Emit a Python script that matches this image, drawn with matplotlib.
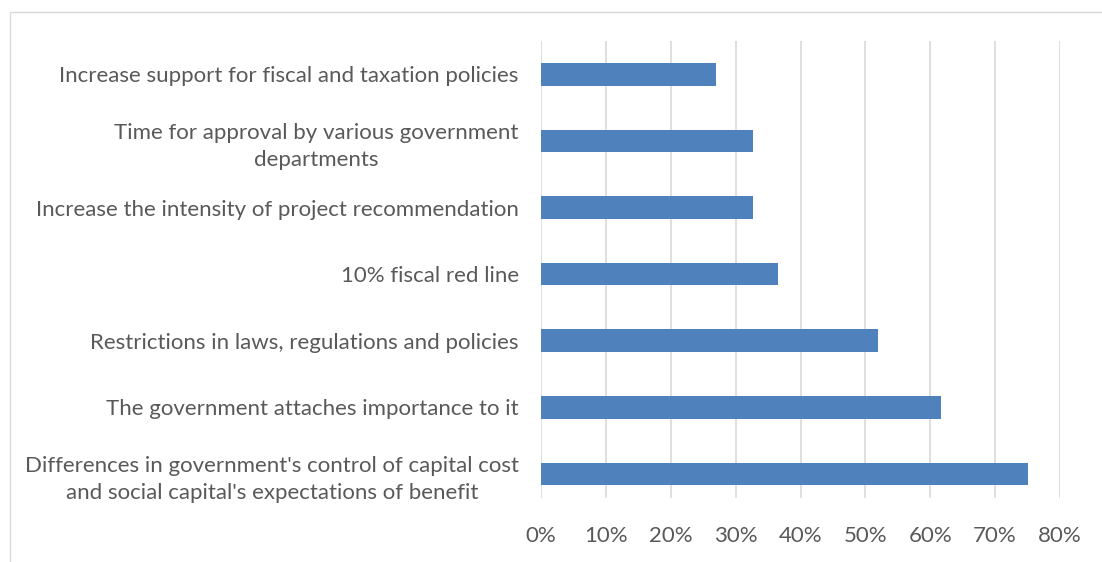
import matplotlib.pyplot as plt
from matplotlib.patches import Rectangle
from matplotlib.ticker import FuncFormatter

plt.rcParams['font.family'] = ['Lato', 'DejaVu Sans']

categories = [
    "Increase support for fiscal and taxation policies",
    "Time for approval by various government\ndepartments",
    "Increase the intensity of project recommendation",
    "10% fiscal red line",
    "Restrictions in laws, regulations and policies",
    "The government attaches importance to it",
    "Differences in government's control of capital cost\nand social capital's expectations of benefit",
]
shares = [0.269, 0.327, 0.327, 0.365, 0.519, 0.616, 0.750]
xticks = [0, 0.1, 0.2, 0.3, 0.4, 0.5, 0.6, 0.7, 0.8]

grey = "#595959"
blue = "#4f81bd"

W, H = 1102, 562
fig = plt.figure(figsize=(W / 100, H / 100), dpi=100)
# plot area in pixels: x 541..1060, y 41..498
ax = fig.add_axes([541 / W, (H - 498) / H, (1060 - 541) / W, (498 - 41) / H])

pos = list(range(len(categories)))
ax.barh(pos, shares, height=0.34, color=blue, zorder=3)
ax.set_ylim(6.36, -0.5)
ax.set_xlim(0, 0.8)
ax.set_xticks(xticks)
ax.xaxis.set_major_formatter(FuncFormatter(lambda v, _: f"{v*100:.0f}%"))
ax.set_yticks(pos)
ax.set_yticklabels(categories, multialignment="center", linespacing=1.45)
ax.tick_params(axis="both", length=0, colors=grey, labelsize=16)
ax.tick_params(axis="y", pad=16)
ax.tick_params(axis="x", pad=20)
ax.xaxis.grid(True, color="#d9d9d9", linewidth=1.2, zorder=0)
for s in ax.spines.values():
    s.set_visible(False)

# chart area border
fig.patches.append(Rectangle((10 / W, -0.02), 1.1, (H - 12) / H + 0.02,
                             transform=fig.transFigure, fill=False,
                             edgecolor="#d9d9d9", linewidth=1.0))

fig.savefig("out.png", dpi=100)
